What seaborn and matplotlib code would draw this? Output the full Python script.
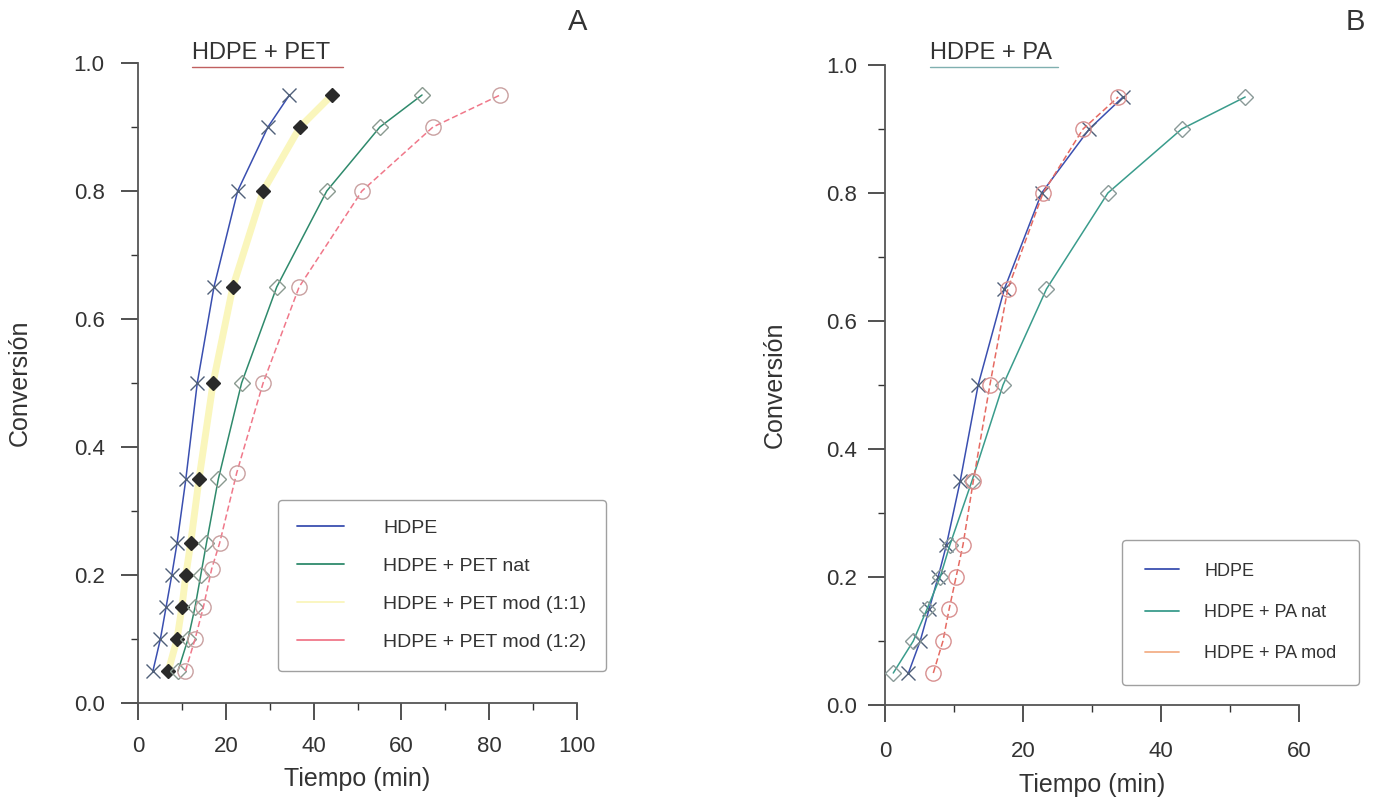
import matplotlib
matplotlib.use("Agg")
import matplotlib.pyplot as plt
import seaborn as sns
import pandas as pd
from matplotlib.lines import Line2D
from matplotlib.ticker import MultipleLocator

# conversion levels (y) shared by all series
conv = [0.05, 0.10, 0.15, 0.20, 0.25, 0.35, 0.50, 0.65, 0.80, 0.90, 0.95]
conv_pet_mod12 = [0.05, 0.10, 0.15, 0.21, 0.25, 0.36, 0.50, 0.65, 0.80, 0.90, 0.95]

# times (min)
t_hdpe = [3.4, 5.1, 6.4, 7.7, 8.9, 10.9, 13.5, 17.3, 22.7, 29.6, 34.5]
t_pet_nat = [9.1, 11.4, 13.0, 14.3, 15.6, 18.3, 23.6, 31.6, 43.0, 55.1, 64.7]
t_pet_mod11 = [6.9, 8.9, 10.0, 10.9, 12.0, 13.9, 17.1, 21.6, 28.5, 36.9, 44.2]
t_pet_mod12 = [10.8, 13.0, 14.9, 16.8, 18.6, 22.5, 28.5, 36.7, 51.0, 67.2, 82.5]

# times (min)
t_pa_nat = [1.2, 4.1, 6.1, 8.0, 9.4, 12.6, 17.1, 23.4, 32.3, 43.0, 52.2]
t_pa_mod = [7.0, 8.4, 9.3, 10.3, 11.3, 12.8, 15.2, 17.8, 22.9, 28.7, 33.8]

labels_a = ["HDPE", "HDPE + PET nat", "HDPE + PET mod (1:1)", "HDPE + PET mod (1:2)"]
labels_b = ["HDPE", "HDPE + PA nat", "HDPE + PA mod"]

sns.set_style("ticks")
plt.rcParams['font.family'] = ['Liberation Sans', 'DejaVu Sans']
plt.rcParams['text.color'] = '#333333'
plt.rcParams['axes.labelcolor'] = '#333333'
plt.rcParams['xtick.color'] = '#333333'
plt.rcParams['ytick.color'] = '#333333'

fig = plt.figure(figsize=(13.73, 7.97), dpi=100)
W, H = 1373, 797
ax1 = fig.add_axes([138 / W, 1 - 703 / H, 439 / W, 640 / H])
ax2 = fig.add_axes([885 / W, 1 - 705 / H, 414 / W, 640 / H])

blue = "#3a4fb0"
green = "#2f8a6c"
yellow = "#faf6bc"
pink = "#f0788a"
teal = "#3a9c8c"
orange = "#e66a62"


def draw(ax, t, y, color, ls, lw, marker, ms, mfc, mec, z):
    df = pd.DataFrame({"t": t, "c": y})
    sns.lineplot(data=df, x="t", y="c", ax=ax, sort=False, estimator=None,
                 color=color, linestyle=ls, linewidth=lw, marker=marker,
                 markersize=ms, markerfacecolor=mfc, markeredgecolor=mec,
                 markeredgewidth=1.0, zorder=z)


# panel A
draw(ax1, t_pet_mod11, conv, yellow, "-", 5, "D", 7, "#2a2a2a", "#2a2a2a", 2)
draw(ax1, t_hdpe, conv, blue, "-", 1.1, "x", 10, "none", "#50607a", 3)
draw(ax1, t_pet_nat, conv, green, "-", 1.1, "D", 8, "none", "#8a9a90", 3)
draw(ax1, t_pet_mod12, conv_pet_mod12, pink, (0, (4, 2)), 1.1, "o", 11, "none", "#c9a0a0", 3)

# panel B
draw(ax2, t_hdpe, conv, blue, "-", 1.1, "x", 10, "none", "#50607a", 3)
draw(ax2, t_pa_nat, conv, teal, "-", 1.1, "D", 8, "none", "#8a9a98", 3)
draw(ax2, t_pa_mod, conv, orange, (0, (4, 2)), 1.1, "o", 11, "none", "#d89090", 3)

for ax, xmax, xpad, ypad in [(ax1, 100, 12, 12), (ax2, 60, 14, 8)]:
    ax.set_xlim(0, xmax)
    ax.set_ylim(0, 1.0)
    ax.xaxis.set_major_locator(MultipleLocator(20))
    ax.xaxis.set_minor_locator(MultipleLocator(10))
    ax.yaxis.set_major_locator(MultipleLocator(0.2))
    ax.yaxis.set_minor_locator(MultipleLocator(0.1))
    ax.yaxis.set_major_formatter(matplotlib.ticker.FormatStrFormatter('%.1f'))
    ax.tick_params(axis='both', which='major', length=12, width=1.2, labelsize=16)
    ax.tick_params(axis='both', which='minor', length=5, width=1.0)
    ax.tick_params(axis='x', which='major', pad=xpad)
    ax.tick_params(axis='y', which='major', pad=ypad)
    sns.despine(ax=ax)
    for s in ["left", "bottom"]:
        ax.spines[s].set_linewidth(1.3)
        ax.spines[s].set_color("#555555")
    ax.set_xlabel("Tiempo (min)", fontsize=18)
    ax.set_ylabel("Conversión", fontsize=18)

ax1.yaxis.set_label_coords(-0.241, 0.5)
ax2.yaxis.set_label_coords(-0.237, 0.5)
ax1.xaxis.set_label_coords(0.5, -0.1)
ax2.xaxis.set_label_coords(0.5, -0.106)

# legends (lines only)
h_a = [Line2D([], [], color=c, lw=1.3) for c in [blue, green, yellow, pink]]
leg_a = ax1.legend(h_a, labels_a, loc="upper left",
                   bbox_to_anchor=(278 / W, 1 - 500 / H), bbox_transform=fig.transFigure,
                   fontsize=14, frameon=True, handlelength=2.4, handletextpad=2.0,
                   labelspacing=1.05, borderpad=1.0, borderaxespad=0)
leg_a.get_frame().set_edgecolor("#888888")
leg_a.get_frame().set_linewidth(1.0)

h_b = [Line2D([], [], color=c, lw=1.3) for c in [blue, teal, "#f3b088"]]
leg_b = ax2.legend(h_b, labels_b, loc="upper left",
                   bbox_to_anchor=(1122 / W, 1 - 540 / H), bbox_transform=fig.transFigure,
                   fontsize=13, frameon=True, handlelength=1.9, handletextpad=1.4,
                   labelspacing=1.35, borderpad=1.25, borderaxespad=0)
leg_b.get_frame().set_edgecolor("#888888")
leg_b.get_frame().set_linewidth(1.0)

# panel titles with underline
fig.text(192 / W, 1 - 53 / H, "HDPE + PET", fontsize=17, va="center", ha="left")
fig.add_artist(Line2D([192 / W, 343 / W], [1 - 67 / H, 1 - 67 / H], color="#c06060", lw=1.0))
fig.text(930 / W, 1 - 53 / H, "HDPE + PA", fontsize=17, va="center", ha="left")
fig.add_artist(Line2D([930 / W, 1058 / W], [1 - 67 / H, 1 - 67 / H], color="#80b0b0", lw=1.0))

fig.text(578 / W, 1 - 22 / H, "A", fontsize=21, va="center", ha="center")
fig.text(1355 / W, 1 - 22 / H, "B", fontsize=21, va="center", ha="center")

fig.savefig("out.png", dpi=100, facecolor="white")
